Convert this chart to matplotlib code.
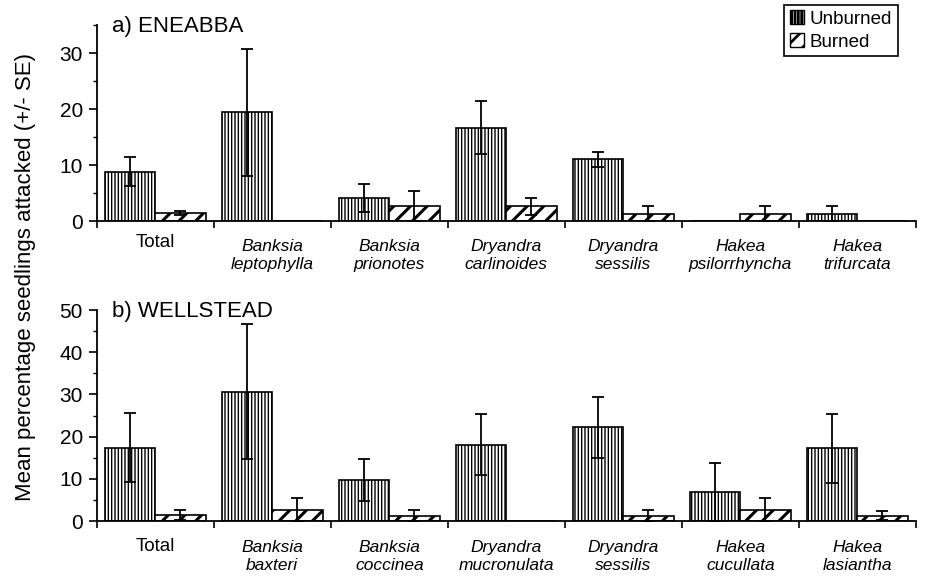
import matplotlib
matplotlib.use("Agg")
import matplotlib.pyplot as plt
import numpy as np
from matplotlib.patches import Patch
from matplotlib.ticker import MultipleLocator
from matplotlib.transforms import ScaledTranslation

plt.rcParams['font.family'] = ['Liberation Sans', 'DejaVu Sans']
plt.rcParams['hatch.linewidth'] = 1.0

# ---- data ----
cats_a = ["Total", "Banksia\nleptophylla", "Banksia\nprionotes", "Dryandra\ncarlinoides",
          "Dryandra\nsessilis", "Hakea\npsilorrhyncha", "Hakea\ntrifurcata"]
unb_a = [8.8, 19.4, 4.1, 16.7, 11.0, 0.0, 1.3]
unb_a_se = [2.6, 11.4, 2.5, 4.8, 1.4, 0.0, 1.3]
bur_a = [1.4, 0.0, 2.6, 2.6, 1.3, 1.3, 0.0]
bur_a_se = [0.4, 0.0, 2.8, 1.5, 1.3, 1.3, 0.0]

cats_b = ["Total", "Banksia\nbaxteri", "Banksia\ncoccinea", "Dryandra\nmucronulata",
          "Dryandra\nsessilis", "Hakea\ncucullata", "Hakea\nlasiantha"]
unb_b = [17.4, 30.6, 9.7, 18.1, 22.2, 6.8, 17.2]
unb_b_se = [8.1, 16.0, 4.9, 7.2, 7.3, 7.0, 8.1]
bur_b = [1.4, 2.7, 1.3, 0.0, 1.3, 2.6, 1.3]
bur_b_se = [1.1, 2.7, 1.4, 0.0, 1.3, 2.8, 1.1]

series_names = ["Unburned", "Burned"]
titles = ["a) ENEABBA", "b) WELLSTEAD"]
ylims = [35, 50]
ylabel = "Mean percentage seedlings attacked (+/- SE)"

fig = plt.figure(figsize=(9.49, 5.78), dpi=100)
ax_a = fig.add_axes([0.102, 0.6176, 0.863, 0.339])
ax_b = fig.add_axes([0.102, 0.0986, 0.863, 0.365])

bw = 0.43
hatch_u = '|||||'
hatch_b = '//'


def set_hlw(artists, lw):
    for a in artists:
        try:
            a.set_hatch_linewidth(lw)
        except Exception:
            pass


def panel(ax, cats, unb, unb_se, bur, bur_se, title, ymax, pad, total_shift):
    x = np.arange(len(cats))
    unb = np.array(unb, float); bur = np.array(bur, float)
    unb_se = np.array(unb_se, float); bur_se = np.array(bur_se, float)
    bu = ax.bar(x - bw / 2, unb, bw, color='white', edgecolor='black', hatch=hatch_u, linewidth=1.2, zorder=2)
    bb = ax.bar(x + bw / 2, bur, bw, color='white', edgecolor='black', hatch=hatch_b, linewidth=1.2, zorder=2)
    set_hlw(bu, 1.0)
    set_hlw(bb, 2.2)
    mu = unb > 0
    mb = bur > 0
    ax.errorbar((x - bw / 2)[mu], unb[mu], yerr=unb_se[mu], fmt='none', ecolor='black',
                elinewidth=1.3, capsize=4, capthick=1.3, zorder=3)
    ax.errorbar((x + bw / 2)[mb], bur[mb], yerr=bur_se[mb], fmt='none', ecolor='black',
                elinewidth=1.3, capsize=4, capthick=1.3, zorder=3)
    ax.set_xlim(-0.5, len(cats) - 0.5)
    ax.set_ylim(0, ymax)
    ax.spines['top'].set_visible(False)
    ax.spines['right'].set_visible(False)
    ax.spines['left'].set_linewidth(1.3)
    ax.spines['bottom'].set_linewidth(1.3)
    ax.yaxis.set_major_locator(MultipleLocator(10))
    ax.yaxis.set_minor_locator(MultipleLocator(5))
    ax.tick_params(axis='y', which='major', direction='out', length=6, width=1.2, labelsize=15, pad=4)
    ax.tick_params(axis='y', which='minor', direction='out', length=3, width=1.0)
    ax.set_xticks(np.arange(-0.5, len(cats), 1.0))
    ax.set_xticklabels([])
    ax.tick_params(axis='x', which='major', direction='out', length=5, width=1.2)
    ax.set_xticks(x, minor=True)
    ax.set_xticklabels(cats, minor=True)
    ax.tick_params(axis='x', which='minor', length=0, pad=pad)
    for i, lab in enumerate(ax.get_xticklabels(minor=True)):
        if cats[i] == "Total":
            lab.set_fontsize(13.5)
            lab.set_fontstyle('normal')
            lab.set_transform(lab.get_transform() +
                              ScaledTranslation(0, total_shift / 72, fig.dpi_scale_trans))
        else:
            lab.set_fontsize(12.5)
            lab.set_fontstyle('italic')
            lab.set_linespacing(1.25)
    ax.text(0.018, 0.965, title, transform=ax.transAxes, fontsize=16, ha='left', va='baseline')


panel(ax_a, cats_a, unb_a, unb_a_se, bur_a, bur_a_se, titles[0], ylims[0], 13, 4)
panel(ax_b, cats_b, unb_b, unb_b_se, bur_b, bur_b_se, titles[1], ylims[1], 14, 2)

fig.text(0.027, 0.52, ylabel, rotation=90, ha='center', va='center', fontsize=16)

handles = [Patch(facecolor='white', edgecolor='black', hatch=hatch_u, label=series_names[0]),
           Patch(facecolor='white', edgecolor='black', hatch=hatch_b, label=series_names[1])]
leg = fig.legend(handles=handles, loc='upper right', bbox_to_anchor=(0.946, 0.992),
                 fontsize=13.5, frameon=True, fancybox=False, framealpha=1, edgecolor='black',
                 handlelength=0.75, handleheight=0.75, handletextpad=0.3, borderpad=0.3,
                 labelspacing=0.3, borderaxespad=0)
leg.get_frame().set_linewidth(1.2)
set_hlw(leg.get_patches(), 2.0)

fig.savefig("out.png", dpi=100)
